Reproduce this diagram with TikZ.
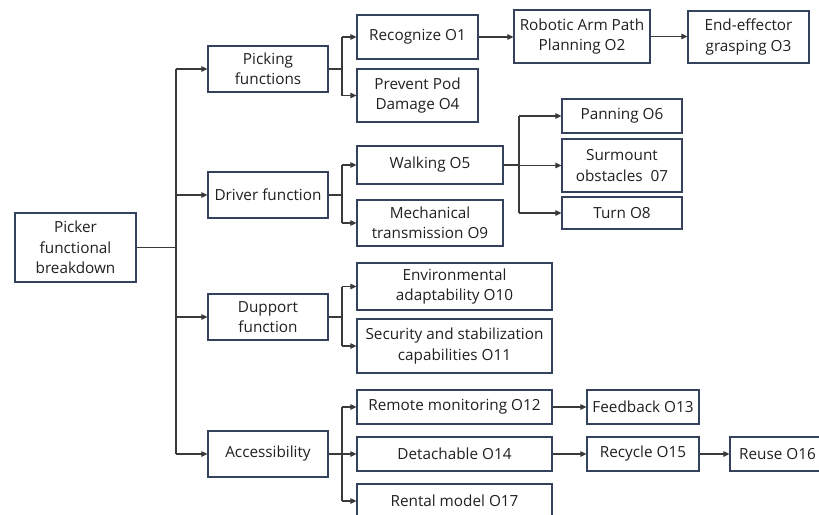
\documentclass[tikz,border=0pt]{standalone}
\usepackage{fontspec}
\setmainfont{Open Sans}
\usetikzlibrary{arrows.meta}
\definecolor{boxc}{HTML}{34425E}
\definecolor{linec}{HTML}{3A3A3A}
\definecolor{txtc}{HTML}{202020}
\begin{document}
\begin{tikzpicture}[x=1pt,y=-1pt,
  box/.style={draw=boxc,line width=1.2pt,fill=white,align=center,inner sep=0pt,text=txtc,
    font=\fontsize{15.3}{20.5}\selectfont},
  conn/.style={draw=linec,line width=1.1pt},
  arr/.style={conn,-{Triangle[length=6pt,width=5.5pt]}}]
\useasboundingbox (0,0) rectangle (819,514);
\clip (0,0) rectangle (819,514);
% root
\node[box,minimum width=121pt,minimum height=69pt] (root) at (75.5,247.5) {Picker\\functional\\breakdown};
% level 1
\node[box,minimum width=120pt,minimum height=46pt] (pick) at (268,69) {Picking\\functions};
\node[box,minimum width=120pt,minimum height=46pt] (drive) at (268,195) {Driver function};
\node[box,minimum width=120pt,minimum height=46pt] (supp) at (268,317) {Dupport\\function};
\node[box,minimum width=120pt,minimum height=46pt] (acc) at (268,454) {Accessibility};
% level 2
\node[box,minimum width=121pt,minimum height=44pt] (o1) at (417.5,37) {Recognize O1};
\node[box,minimum width=121pt,minimum height=53pt] (o4) at (417.5,95.5) {Prevent Pod\\Damage O4};
\node[box,minimum width=146pt,minimum height=38pt] (o5) at (430,165) {Walking O5};
\node[box,minimum width=146pt,minimum height=46pt] (o9) at (430,223) {Mechanical\\transmission O9};
\node[box,minimum width=195pt,minimum height=47pt] (o10) at (454.5,286.5) {Environmental\\adaptability O10};
\node[box,minimum width=195pt,minimum height=54pt] (o11) at (454.5,346) {Security and stabilization\\capabilities O11};
\node[box,minimum width=195pt,minimum height=34pt] (o12) at (454.5,407) {Remote monitoring O12};
\node[box,minimum width=195pt,minimum height=34pt] (o14) at (454.5,454) {Detachable O14};
\node[box,minimum width=195pt,minimum height=34pt] (o17) at (454.5,501) {Rental model O17};
% further
\node[box,minimum width=136pt,minimum height=53pt] (o2) at (582,36.5) {Robotic Arm Path\\Planning O2};
\node[box,minimum width=121pt,minimum height=52pt] (o3) at (748.5,37) {End-effector\\grasping O3};
\node[box,minimum width=120pt,minimum height=34pt] (o6) at (622,116) {Panning O6};
\node[box,minimum width=120pt,minimum height=53pt] (o7) at (622,165.5) {Surmount\\obstacles~~07};
\node[box,minimum width=120pt,minimum height=32pt] (o8) at (622,213) {Turn O8};
\node[box,minimum width=112pt,minimum height=34pt] (o13) at (643,407) {Feedback O13};
\node[box,minimum width=112pt,minimum height=34pt] (o15) at (643,454) {Recycle O15};
\node[box,minimum width=95pt,minimum height=34pt] (o16) at (777.5,454) {Reuse O16};
% junction coordinates
\coordinate (t0) at (176,0);
\coordinate (t1) at (342,0);
\coordinate (t2) at (519,0);
% root trunk
\draw[conn] (root.east) -- (root.east -| t0);
\draw[conn] (t0 |- pick) -- (t0 |- acc);
\foreach \n in {pick,drive,supp,acc} \draw[arr] (t0 |- \n) -- (\n.west);
% picking
\draw[conn] (pick.east) -- (pick.east -| t1);
\draw[conn] (t1 |- o1) -- (t1 |- o4);
\foreach \n in {o1,o4} \draw[arr] (t1 |- \n) -- (\n.west);
% driver
\draw[conn] (drive.east) -- (drive.east -| t1);
\draw[conn] (t1 |- o5) -- (t1 |- o9);
\foreach \n in {o5,o9} \draw[arr] (t1 |- \n) -- (\n.west);
% support
\draw[conn] (supp.east) -- (supp.east -| t1);
\draw[conn] (t1 |- o10) -- (t1 |- o11);
\foreach \n in {o10,o11} \draw[arr] (t1 |- \n) -- (\n.west);
% accessibility
\draw[conn] (acc.east) -- (acc.east -| t1);
\draw[conn] (t1 |- o12) -- (t1 |- o17);
\foreach \n in {o12,o14,o17} \draw[arr] (t1 |- \n) -- (\n.west);
% chains
\draw[arr] (o1.east) -- (o2.west |- o1.east);
\draw[arr] (o2.east) -- (o3.west |- o2.east);
\draw[conn] (o5.east) -- (o5.east -| t2);
\draw[conn] (t2 |- o6) -- (t2 |- o8);
\foreach \n in {o6,o7,o8} \draw[arr] (t2 |- \n) -- (\n.west);
\draw[arr] (o12.east) -- (o13.west);
\draw[arr] (o14.east) -- (o15.west);
\draw[arr] (o15.east) -- (o16.west);
\end{tikzpicture}
\end{document}
